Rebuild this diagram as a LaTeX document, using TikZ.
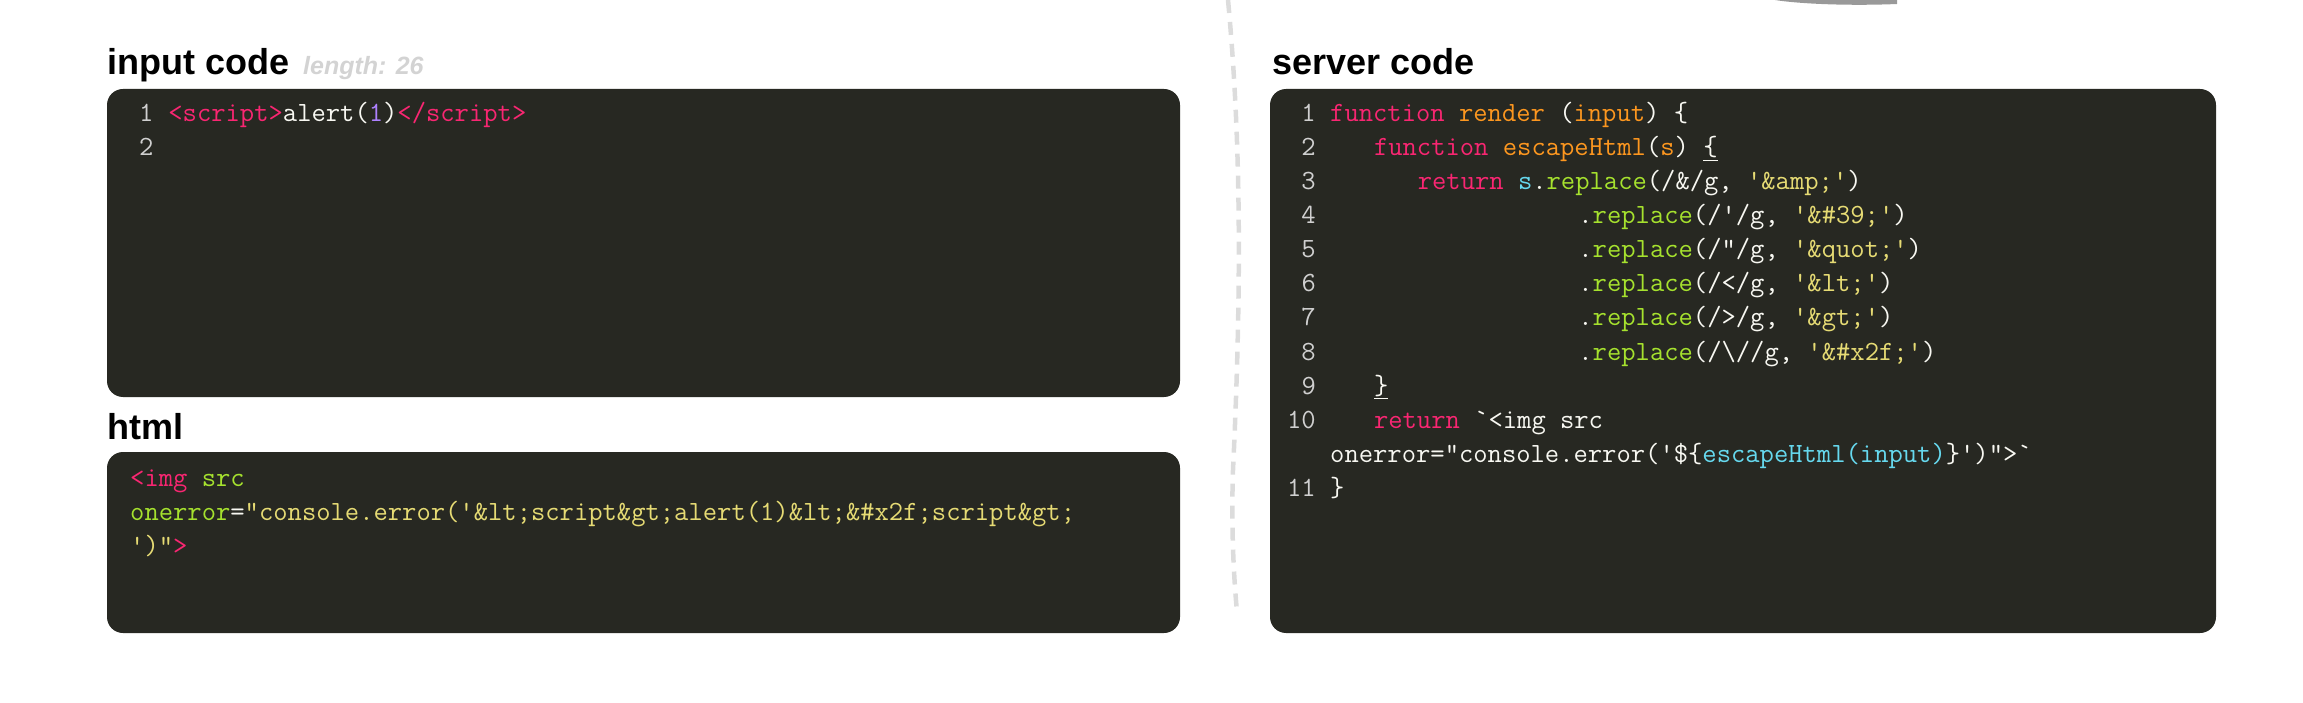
\documentclass[tikz,border=0pt]{standalone}
\usepackage{fontspec}
\newfontfamily\titlefont{Liberation Sans}
\usetikzlibrary{positioning}
\definecolor{monobg}{HTML}{272822}
\definecolor{monofg}{HTML}{F8F8F2}
\definecolor{monoln}{HTML}{D0D0D0}
\definecolor{monopink}{HTML}{F92672}
\definecolor{monoorange}{HTML}{FD971F}
\definecolor{monogreen}{HTML}{A6E22E}
\definecolor{monoyellow}{HTML}{E6DB74}
\definecolor{monocyan}{HTML}{66D9EF}
\definecolor{monopurple}{HTML}{AE81FF}
\definecolor{dividergray}{HTML}{DCDCDC}
\definecolor{lengthgray}{HTML}{D3D3D3}
\newcommand\hlkw[1]{\textcolor{monopink}{#1}}
\newcommand\hlfn[1]{\textcolor{monoorange}{#1}}
\newcommand\hlattr[1]{\textcolor{monogreen}{#1}}
\newcommand\hlstr[1]{\textcolor{monoyellow}{#1}}
\newcommand\hlvar[1]{\textcolor{monocyan}{#1}}
\newcommand\hlnum[1]{\textcolor{monopurple}{#1}}
\tikzset{
	codebox/.style={fill=monobg, rounded corners=16pt},
	title/.style={anchor=base west, inner sep=0pt, font=\titlefont\bfseries\fontsize{36}{40}\selectfont},
	codeline/.style={anchor=base west, inner sep=0pt, text=monofg, font=\ttfamily\fontsize{27.8}{34}\selectfont},
	lineno/.style={anchor=base east, inner sep=0pt, text=monoln, font=\ttfamily\fontsize{27.8}{34}\selectfont},
	divider/.style={draw=dividergray, line width=4.5pt, dash pattern=on 13pt off 9pt}
}

\begin{document}
\begin{tikzpicture}[x=1pt, y=-1pt]
			%%%%% START %%%%%
			\useasboundingbox (0,0) rectangle (2303,703);
			
			% divider and top shape
			\draw[divider] (1228,0) .. controls (1242,150) and (1241,300) .. (1233,470) .. controls (1231,530) and (1234,580) .. (1237,612);
			\fill[gray!80] (1775,0) .. controls (1800,4) and (1850,6) .. (1897,4) -- (1897,0) -- cycle;
			
			% input code
			\node[title] (intitle) at (107,75) {input code};
			\node[anchor=base west, inner sep=0pt, text=lengthgray, font=\titlefont\bfseries\itshape\fontsize{25}{30}\selectfont] (inlength) at (303,75) {length: 26};
			\fill[codebox] (107,89) rectangle (1180,397);
			\node[lineno] (inno1) at (153.6,122) {1};
			\node[lineno] (inno2) at (153.6,156) {2};
			\node[codeline] (in1) at (168.2,122) {\hlkw{<script>}alert(\hlnum{1})\hlkw{</script>}};
			
			% html
			\node[title] (htmltitle) at (107,439) {html};
			\fill[codebox] (107,452) rectangle (1180,633);
			\node[codeline] (html1) at (130,486) {\hlkw{<img} \hlattr{src}};
			\node[codeline] (html2) at (130,520) {\hlattr{onerror}=\hlstr{"console.error('\&lt;script\&gt;alert(1)\&lt;\&\#x2f;script\&gt;}};
			\node[codeline] (html3) at (130,554) {\hlstr{')"}\hlkw{>}};
			
			% server code
			\node[title] (srvtitle) at (1272,75) {server code};
			\fill[codebox] (1270,89) rectangle (2216,633);
			\foreach \n/\r in {1/1,2/2,3/3,4/4,5/5,6/6,7/7,8/8,9/9,10/10,11/12}
				\node[lineno] (srvno\n) at (1316,122+34*\r-34) {\n};
			\node[codeline] (srv1) at (1330,122) {\hlkw{function} \hlfn{render} (\hlfn{input}) \{};
			\node[codeline] (srv2) at (1373.8,156) {\hlkw{function} \hlfn{escapeHtml}(\hlfn{s}) \underline{\{}};
			\node[codeline] (srv3) at (1417.6,190) {\hlkw{return} \hlvar{s}.\hlattr{replace}(/\&/g, \hlstr{'\&amp;'})};
			\node[codeline] (srv4) at (1578.2,224) {.\hlattr{replace}(/'/g, \hlstr{'\&\#39;'})};
			\node[codeline] (srv5) at (1578.2,258) {.\hlattr{replace}(/"/g, \hlstr{'\&quot;'})};
			\node[codeline] (srv6) at (1578.2,292) {.\hlattr{replace}(/</g, \hlstr{'\&lt;'})};
			\node[codeline] (srv7) at (1578.2,326) {.\hlattr{replace}(/>/g, \hlstr{'\&gt;'})};
			\node[codeline] (srv8) at (1578.2,360) {.\hlattr{replace}(/\textbackslash//g, \hlstr{'\&\#x2f;'})};
			\node[codeline] (srv9) at (1373.8,394) {\underline{\}}};
			\node[codeline] (srv10) at (1373.8,428) {\hlkw{return} `<img src};
			\node[codeline] (srv10b) at (1330,462) {onerror="console.error('\$\{\hlvar{escapeHtml(input)}\}')">`};
			\node[codeline] (srv11) at (1330,496) {\}};
			
			%%%%% END %%%%%
\end{tikzpicture}
\end{document}
